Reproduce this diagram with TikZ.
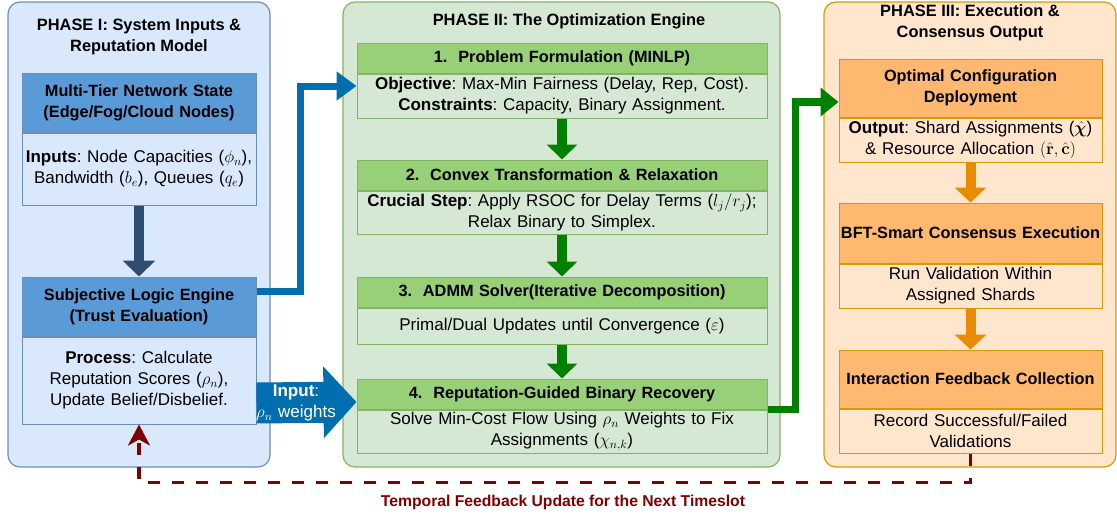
\documentclass[tikz,border=0pt]{standalone}
\usepackage{fix-cm}
\usepackage{amsmath,bm}
\usepackage[no-math]{fontspec}
\setmainfont{Liberation Sans}
\frenchspacing
\usetikzlibrary{arrows.meta,positioning}
\definecolor{bluebg}{HTML}{DAE8FC}
\definecolor{blueln}{HTML}{6C8EBF}
\definecolor{bluehd}{HTML}{5A9BD7}
\definecolor{grnbg}{HTML}{D5E8D4}
\definecolor{grnln}{HTML}{82B366}
\definecolor{grnhd}{HTML}{97D077}
\definecolor{orgbg}{HTML}{FFE6CC}
\definecolor{orgln}{HTML}{D79B00}
\definecolor{orghd}{HTML}{FFB870}
\definecolor{navy}{HTML}{2E4D70}
\definecolor{bluar}{HTML}{006EAF}
\definecolor{grnar}{HTML}{008000}
\definecolor{orgar}{HTML}{E88B00}
\definecolor{maroon}{HTML}{800000}
\tikzset{
  phase/.style={rounded corners=12pt,line width=1.2pt,minimum height=465pt},
  ttl/.style={font=\fontsize{16.4}{21}\selectfont\bfseries,align=center},
  box/.style={line width=1pt,inner xsep=0pt,inner ysep=2pt,align=center,
              font=\fontsize{17}{21}\selectfont},
  hfont/.style={font=\fontsize{16.3}{21}\selectfont\bfseries},
  hdI/.style={box,hfont,draw=blueln,fill=bluehd,text width=234pt,minimum height=59pt},
  bdI/.style={box,draw=blueln,fill=bluebg,text width=234pt},
  hdII/.style={box,hfont,draw=grnln,fill=grnhd,text width=410pt,minimum height=30pt},
  bdII/.style={box,draw=grnln,fill=grnbg,text width=410pt},
  hdIII/.style={box,hfont,draw=orgln,fill=orghd,text width=263pt},
  bdIII/.style={box,draw=orgln,fill=orgbg,text width=263pt,minimum height=44pt},
  nar/.style={draw=navy,line width=10pt,-{Triangle[width=32pt,length=16pt]}},
  gar/.style={draw=grnar,line width=10pt,-{Triangle[width=30pt,length=15pt]}},
  oar/.style={draw=orgar,line width=10pt,-{Triangle[width=31pt,length=15pt]}},
  bcon/.style={draw=bluar,line width=7pt,-{Triangle[width=28pt,length=20pt]}},
  gcon/.style={draw=grnar,line width=7.5pt,-{Triangle[width=28pt,length=18pt]}},
  inar/.style={draw=bluar,line width=41pt,-{Triangle[width=70pt,length=33pt]}},
  fb/.style={draw=maroon,line width=3.5pt,dash pattern=on 12pt off 12pt,
             -{Stealth[width=22pt,length=21pt,inset=6pt]}},
}
\begin{document}
\begin{tikzpicture}[x=1pt,y=-1pt]
  \useasboundingbox (0,0) rectangle (1117,517);
  % phase containers
  \node[phase,draw=blueln,fill=bluebg,minimum width=262pt] (ph1) at (139,234.5) {};
  \node[phase,draw=grnln,fill=grnbg,minimum width=437pt] (ph2) at (561.5,234.5) {};
  \node[phase,draw=orgln,fill=orgbg,minimum width=292pt] (ph3) at (970,234.5) {};
  \node[ttl] (t1) at (139,37) {PHASE I: System Inputs \&\\Reputation Model};
  \node[ttl] (t2) at (569,21) {PHASE II: The Optimization Engine};
  \node[ttl] (t3) at (970,23) {PHASE III: Execution \&\\Consensus Output};

  % phase I
  \node[hdI] (netH) at (139,102.5) {Multi-Tier Network State\\(Edge/Fog/Cloud Nodes)};
  \node[bdI,minimum height=72pt] (netB) [below=0pt of netH]
       {\textbf{Inputs}: Node Capacities ($\phi_n$),\\Bandwidth ($b_e$), Queues ($q_e$)};
  \node[hdI] (sleH) at (139,306.5) {Subjective Logic Engine\\(Trust Evaluation)};
  \node[bdI,minimum height=87pt] (sleB) [below=0pt of sleH]
       {\textbf{Process}: Calculate\\Reputation Scores ($\rho_n$),\\Update Belief/Disbelief.};

  % phase II
  \node[hdII] (p1H) at (562,58) {1.\ \ Problem Formulation (MINLP)};
  \node[bdII,minimum height=44pt] (p1B) [below=0pt of p1H]
       {\textbf{Objective}: Max-Min Fairness (Delay, Rep, Cost).\\\textbf{Constraints}: Capacity, Binary Assignment.};
  \node[hdII] (p2H) at (562,175) {2.\ \ Convex Transformation \& Relaxation};
  \node[bdII,minimum height=43pt] (p2B) [below=0pt of p2H]
       {\textbf{Crucial Step}: Apply RSOC for Delay Terms ($l_j/r_j$);\\Relax Binary to Simplex.};
  \node[hdII] (p3H) at (562,292) {3.\ \ ADMM Solver(Iterative Decomposition)};
  \node[bdII,minimum height=36pt] (p3B) [below=0pt of p3H]
       {Primal/Dual Updates until Convergence ($\varepsilon$)};
  \node[hdII] (p4H) at (562,394) {4.\ \ Reputation-Guided Binary Recovery};
  \node[bdII,minimum height=43pt] (p4B) [below=0pt of p4H]
       {Solve Min-Cost Flow Using $\rho_n$ Weights to Fix\\Assignments ($\chi_{n,k}$)};

  % phase III
  \node[hdIII,minimum height=58pt] (ocH) at (970.5,88) {Optimal Configuration\\Deployment};
  \node[bdIII] (ocB) [below=0pt of ocH]
       {\textbf{Output}: Shard Assignments ($\hat{\bm\chi}$)\\\& Resource Allocation $\left(\hat{\mathbf{r}},\hat{\mathbf{c}}\right)$};
  \node[hdIII,minimum height=60pt] (bftH) at (970.5,233) {BFT-Smart Consensus Execution};
  \node[bdIII] (bftB) [below=0pt of bftH] {Run Validation Within\\Assigned Shards};
  \node[hdIII,minimum height=58pt] (ifH) at (970.5,379) {Interaction Feedback Collection};
  \node[bdIII] (ifB) [below=0pt of ifH] {Record Successful/Failed\\Validations};

  % flow arrows
  \draw[nar] (netB.south) -- (sleH.north);
  \draw[gar] (p1B.south) -- (p2H.north);
  \draw[gar] (p2B.south) -- (p3H.north);
  \draw[gar] (p3B.south) -- (p4H.north);
  \draw[oar] (ocB.south) -- (bftH.north);
  \draw[oar] (bftB.south) -- (ifH.north);

  % cross-phase links
  \draw[bcon] ([yshift=15.5pt]sleH.east) -- ++(44,0) |- ([yshift=10pt]p1B.west);
  \draw[inar] ([yshift=-22.5pt]sleB.east) -- ([yshift=-8pt]p4H.west);
  \node[box,text=white,text width=90pt] (inlbl) at (296,403) {\textbf{Input}:\\$\rho_n$ weights};
  \draw[gcon] (p4H.south east) -- ++(28,0) |- ([yshift=-14pt]ocH.west);

  % feedback loop
  \draw[fb] (ifB.south) -- ++(0,29) -| (sleB.south);
  \node[ttl,font=\fontsize{15.7}{21}\selectfont\bfseries,text=maroon] (fblbl) at (563,502)
       {Temporal Feedback Update for the Next Timeslot};
\end{tikzpicture}
\end{document}
